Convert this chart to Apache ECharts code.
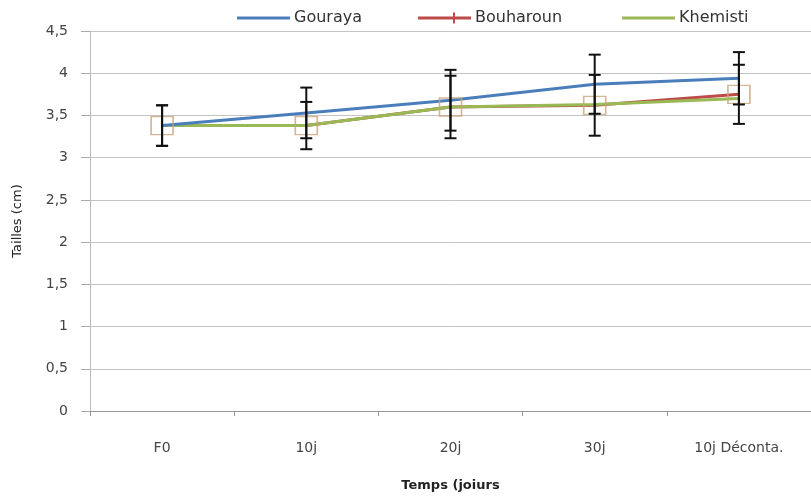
<!DOCTYPE html>
<html><head><meta charset="utf-8">
<script src="https://cdn.jsdelivr.net/npm/echarts@6/dist/echarts.min.js"></script>
<style>html,body{margin:0;padding:0;background:#fff}#c{width:811px;height:497px}</style>
</head><body><div id="c"></div>
<script>
var categories = ['F0', '10j', '20j', '30j', '10j Déconta.'];
var yTicks = ['0', '0,5', '1', '1,5', '2', '2,5', '3', '3,5', '4', '4,5'];
var gouraya = [3.38, 3.53, 3.68, 3.87, 3.94];
var bouharoun = [3.38, 3.38, 3.60, 3.62, 3.75];
var khemisti = [3.38, 3.38, 3.60, 3.63, 3.70];
var gourayaErr = [0.24, 0.30, 0.36, 0.35, 0.31];
var bouharounErr = [0.24, 0.28, 0.37, 0.36, 0.35];

function errData(vals, errs) {
  return vals.map(function (v, i) { return [i, v - errs[i], v + errs[i]]; });
}
function errRender(params, api) {
  var x = api.value(0);
  var lo = api.coord([x, api.value(1)]);
  var hi = api.coord([x, api.value(2)]);
  var w = 6;
  var st = { stroke: '#111', lineWidth: 2 };
  return { type: 'group', children: [
    { type: 'line', shape: { x1: hi[0], y1: hi[1], x2: lo[0], y2: lo[1] }, style: st },
    { type: 'line', shape: { x1: hi[0] - w, y1: hi[1], x2: hi[0] + w, y2: hi[1] }, style: st },
    { type: 'line', shape: { x1: lo[0] - w, y1: lo[1], x2: lo[0] + w, y2: lo[1] }, style: st }
  ]};
}
var chart = echarts.init(document.getElementById('c'));
var fontFam = '"DejaVu Sans", "Liberation Sans", sans-serif';
var lineIcon = 'path://M0,4 L53,4 L53,7 L0,7 Z';
var crossIcon = 'path://M0,4 L53,4 L53,7 L0,7 Z M35,0 L37,0 L37,11 L35,11 Z';
function leg(name, left, icon) {
  return { top: 5, left: left, itemWidth: 53, itemHeight: 11, icon: icon, itemGap: 0,
    textStyle: { color: '#333', fontSize: 16, fontFamily: fontFam, padding: [0, 0, 0, -1] },
    data: [name] };
}
chart.setOption({
  animation: false,
  grid: { left: 90, top: 31, width: 735, height: 381 },
  legend: [leg('Gouraya', 232, lineIcon), leg('Bouharoun', 413, crossIcon), leg('Khemisti', 617, lineIcon)],
  xAxis: {
    type: 'category', data: categories, boundaryGap: true,
    name: 'Temps (joiurs', nameLocation: 'middle', nameGap: 68,
    nameTextStyle: { color: '#222', fontSize: 13, fontWeight: 'bold', fontFamily: fontFam },
    axisLine: { lineStyle: { color: '#999', width: 1 } },
    axisTick: { show: true, length: 5, lineStyle: { color: '#999' } },
    axisLabel: { color: '#444', fontSize: 14, margin: 30, fontFamily: fontFam }
  },
  yAxis: {
    type: 'value', min: 0, max: 4.5, interval: 0.5,
    name: 'Tailles (cm)', nameLocation: 'middle', nameGap: 66, nameRotate: 90,
    nameTextStyle: { color: '#222', fontSize: 13, fontFamily: fontFam },
    axisLine: { show: true, lineStyle: { color: '#bbb' } },
    axisTick: { show: true, length: 9, lineStyle: { color: '#aaa' } },
    axisLabel: { color: '#444', fontSize: 14, margin: 22, fontFamily: fontFam,
      formatter: function (v) { return yTicks[Math.round(v * 2)]; } },
    splitLine: { lineStyle: { color: '#c4c4c4', width: 1 } }
  },
  series: [
    { name: 'Gouraya', type: 'line', data: gouraya, symbol: 'none', color: '#4a7ebb',
      lineStyle: { width: 3, color: '#4a7ebb' }, z: 4 },
    { name: 'Bouharoun', type: 'line', data: bouharoun, symbol: 'none', color: '#be4b48',
      lineStyle: { width: 3, color: '#be4b48' }, z: 3 },
    { name: 'Khemisti', type: 'line', data: khemisti, symbol: 'none', color: '#98b954',
      lineStyle: { width: 3, color: '#98b954' }, z: 3 },
    { type: 'scatter', data: bouharoun, symbol: 'rect', symbolSize: [22, 18],
      itemStyle: { color: 'rgba(0,0,0,0)', borderColor: '#c9a27a', borderWidth: 1.5 }, z: 5 },
    { type: 'custom', renderItem: errRender, data: errData(gouraya, gourayaErr), z: 6,
      encode: { x: 0, y: [1, 2] } },
    { type: 'custom', renderItem: errRender, data: errData(bouharoun, bouharounErr), z: 6,
      encode: { x: 0, y: [1, 2] } }
  ]
});
</script></body></html>
